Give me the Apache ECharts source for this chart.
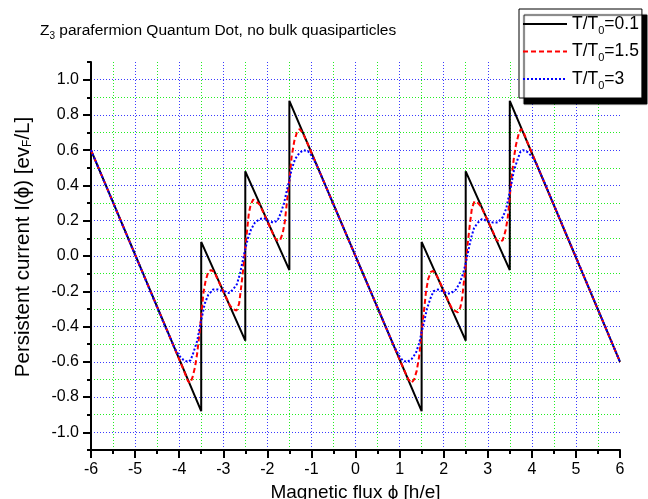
<!DOCTYPE html>
<html>
<head>
<meta charset="utf-8">
<script src="https://cdn.jsdelivr.net/npm/echarts@6/dist/echarts.min.js"></script>
<style>
    html, body { margin: 0; padding: 0; background: #fff; }
    #chart { width: 648px; height: 499px; }
</style>
</head>
<body>
<div id="chart"></div>
<script>
    // T/T0 = 0.1 : sawtooth corners
    var fluxBlack = [-6, -3.5, -3.5, -2.5, -2.5, -1.5, -1.5, 1.5, 1.5, 2.5, 2.5, 3.5, 3.5, 6];
    var currentBlack = [0.6, -0.88, 0.08, -0.48, 0.48, -0.08, 0.88, -0.88, 0.08, -0.48, 0.48, -0.08, 0.88, -0.6];

    // T/T0 = 1.5
    var fluxRed = [-6, -4.0, -3.9, -3.8, -3.75, -3.7, -3.64, -3.59, -3.53, -3.49, -3.45, -3.4, -3.34, -3.28, -3.2, -3.15,
        -2.85, -2.78, -2.7, -2.64, -2.59, -2.55, -2.51, -2.47, -2.42, -2.38, -2.32, -2.25, -2.17, -1.88, -1.82, -1.76,
        -1.71, -1.65, -1.6, -1.55, -1.5, -1.45, -1.39, -1.33, -1.27, -1.2, -1.1, 0,
        1.1, 1.2, 1.27, 1.33, 1.39, 1.45, 1.5, 1.55, 1.6, 1.65, 1.71, 1.76, 1.82, 1.88, 2.17, 2.25, 2.32, 2.38, 2.42,
        2.47, 2.51, 2.55, 2.59, 2.64, 2.7, 2.78, 2.85, 3.15, 3.2, 3.28, 3.34, 3.4, 3.45, 3.49, 3.53, 3.59, 3.64, 3.7,
        3.75, 3.8, 3.9, 4.0, 6];
    var currentRed = [0.6, -0.585, -0.645, -0.71, -0.72, -0.69, -0.63, -0.55, -0.42, -0.31, -0.21, -0.14, -0.09, -0.08, -0.09, -0.12,
        -0.28, -0.30, -0.31, -0.27, -0.17, -0.08, 0.02, 0.12, 0.24, 0.29, 0.32, 0.31, 0.29, 0.13, 0.10, 0.085,
        0.09, 0.13, 0.20, 0.32, 0.43, 0.56, 0.65, 0.70, 0.72, 0.70, 0.645, 0,
        -0.645, -0.70, -0.72, -0.70, -0.65, -0.56, -0.43, -0.32, -0.20, -0.13, -0.09, -0.085, -0.10, -0.13, -0.29, -0.31, -0.32, -0.29, -0.24,
        -0.12, -0.02, 0.08, 0.17, 0.27, 0.31, 0.30, 0.28, 0.12, 0.09, 0.08, 0.09, 0.14, 0.21, 0.31, 0.42, 0.55, 0.63, 0.69,
        0.72, 0.71, 0.645, 0.585, -0.6];

    // T/T0 = 3
    var fluxBlue = [-6, -4.3, -4.2, -4.1, -4.0, -3.9, -3.8, -3.74, -3.68, -3.59, -3.53, -3.47, -3.42, -3.34, -3.23, -3.12,
        -2.97, -2.87, -2.78, -2.69, -2.62, -2.56, -2.5, -2.44, -2.37, -2.28, -2.17, -2.08, -1.98, -1.87, -1.77, -1.7,
        -1.62, -1.56, -1.5, -1.45, -1.37, -1.27, -1.18, -1.08, -1.0, -0.88, 0,
        0.88, 1.0, 1.08, 1.18, 1.27, 1.37, 1.45, 1.5, 1.56, 1.62, 1.7, 1.77, 1.87, 1.98, 2.08, 2.17, 2.28, 2.37, 2.44,
        2.5, 2.56, 2.62, 2.69, 2.78, 2.87, 2.97, 3.12, 3.23, 3.34, 3.42, 3.47, 3.53, 3.59, 3.68, 3.74, 3.8, 3.9, 4.0,
        4.1, 4.2, 4.3, 6];
    var currentBlue = [0.6, -0.41, -0.465, -0.525, -0.565, -0.59, -0.60, -0.59, -0.55, -0.48, -0.40, -0.33, -0.27, -0.22, -0.19, -0.19,
        -0.20, -0.21, -0.19, -0.16, -0.10, -0.03, 0.04, 0.10, 0.15, 0.19, 0.21, 0.215, 0.20, 0.19, 0.20, 0.24,
        0.30, 0.37, 0.43, 0.49, 0.55, 0.585, 0.60, 0.595, 0.57, 0.515, 0,
        -0.515, -0.57, -0.595, -0.60, -0.585, -0.55, -0.49, -0.43, -0.37, -0.30, -0.24, -0.20, -0.19, -0.20, -0.215, -0.21, -0.19, -0.15, -0.10,
        -0.04, 0.03, 0.10, 0.16, 0.19, 0.21, 0.20, 0.19, 0.19, 0.22, 0.27, 0.33, 0.40, 0.48, 0.55, 0.59, 0.60, 0.59, 0.565,
        0.525, 0.465, 0.41, -0.6];

    var seriesNames = ['T/T0=0.1', 'T/T0=1.5', 'T/T0=3'];
    var yMajorTicks = [-1.0, -0.8, -0.6, -0.4, -0.2, 0.0, 0.2, 0.4, 0.6, 0.8, 1.0];

    var FONT = '"Liberation Sans", Arial, sans-serif';
    var BLUE_GRID = '#3a3aff';
    var GREEN_GRID = '#22ee22';

    function zip(xs, ys) {
        return xs.map(function (x, i) { return [x, ys[i]]; });
    }

    function buildLine(name, xs, ys, color, type) {
        return {
            name: name,
            type: 'line',
            data: zip(xs, ys),
            symbol: 'none',
            animation: false,
            lineStyle: { color: color, width: 2, type: type },
            itemStyle: { color: color }
        };
    }

    var chart = echarts.init(document.getElementById('chart'), null, { renderer: 'canvas' });

    chart.setOption({
        animation: false,
        textStyle: { fontFamily: FONT },
        title: {
            text: '{a|Z}{s|3}{a| parafermion Quantum Dot, no bulk quasiparticles}',
            left: 40,
            top: 21,
            padding: 0,
            textStyle: {
                fontWeight: 'normal',
                rich: {
                    a: { fontSize: 15.5, lineHeight: 20, fontWeight: 'normal', color: '#000', fontFamily: FONT },
                    s: { fontSize: 10, lineHeight: 4, verticalAlign: 'bottom', fontWeight: 'normal', color: '#000', fontFamily: FONT }
                }
            }
        },
        legend: {
            orient: 'vertical',
            left: 519,
            top: 9,
            padding: [6, 3, 7, 3],
            itemGap: 6.5,
            itemWidth: 44,
            itemHeight: 14,
            backgroundColor: '#fff',
            borderColor: '#000',
            borderWidth: 1,
            borderRadius: 0,
            shadowColor: '#000',
            shadowBlur: 1,
            shadowOffsetX: 5,
            shadowOffsetY: 6,
            itemStyle: { opacity: 0 },
            data: seriesNames,
            formatter: function (name) {
                var parts = name.split('T0');
                return '{a|' + parts[0] + 'T}{s|0}{a|' + parts[1] + '}';
            },
            textStyle: {
                rich: {
                    a: { fontSize: 17.5, lineHeight: 24, color: '#000', fontFamily: FONT },
                    s: { fontSize: 11, lineHeight: 2, verticalAlign: 'bottom', color: '#000', fontFamily: FONT }
                }
            }
        },
        grid: { left: 91, right: 28, top: 62, bottom: 49, outerBoundsMode: 'none', containLabel: false },
        xAxis: {
            type: 'value',
            min: -6,
            max: 6,
            interval: 1,
            name: 'Magnetic flux \u03d5 [h/e]',
            nameLocation: 'middle',
            nameGap: 31,
            nameTextStyle: { fontSize: 19, color: '#000', fontFamily: FONT },
            axisLine: { onZero: false, lineStyle: { color: '#000', width: 2 } },
            axisTick: { length: 8, lineStyle: { color: '#000', width: 2 } },
            minorTick: { show: true, splitNumber: 2, length: 4, lineStyle: { color: '#000', width: 2 } },
            axisLabel: { fontSize: 16, color: '#000', margin: 12 },
            splitLine: { show: true, showMaxLine: false, lineStyle: { color: BLUE_GRID, width: 1, type: [1, 2] } },
            minorSplitLine: { show: true, lineStyle: { color: GREEN_GRID, width: 1, type: [1, 2] } }
        },
        yAxis: [{
            type: 'value',
            min: -1.1,
            max: 1.1,
            interval: 0.1,
            name: '{a|Persistent current I(\u03d5) [ev}{s|F}{a|/L]}',
            nameLocation: 'middle',
            nameRotate: 90,
            nameGap: 57,
            nameTextStyle: {
                padding: [0, 0, 0, 18],
                rich: {
                    a: { fontSize: 20.5, lineHeight: 22, color: '#000', fontFamily: FONT },
                    s: { fontSize: 12, lineHeight: 4, verticalAlign: 'bottom', color: '#000', fontFamily: FONT }
                }
            },
            axisLine: { show: true, onZero: false, lineStyle: { color: '#000', width: 2 } },
            axisTick: { length: 4, lineStyle: { color: '#000', width: 2 } },
            axisLabel: {
                fontSize: 16,
                color: '#000',
                margin: 12,
                formatter: function (v) {
                    var t = Math.round(v * 10);
                    return t % 2 === 0 ? (t / 10).toFixed(1) : '';
                }
            },
            splitLine: {
                show: true,
                showMaxLine: false,
                lineStyle: { color: [GREEN_GRID, BLUE_GRID], width: 1, type: [1, 2] }
            }
        }, {
            type: 'value',
            min: -1.1,
            max: 1.1,
            position: 'left',
            axisLine: { show: false, onZero: false },
            axisTick: { show: true, length: 8, customValues: yMajorTicks, lineStyle: { color: '#000', width: 2 } },
            axisLabel: { show: false },
            splitLine: { show: false }
        }],
        series: [
            buildLine(seriesNames[0], fluxBlack, currentBlack, '#000', 'solid'),
            buildLine(seriesNames[1], fluxRed, currentRed, '#ff0000', [5, 3]),
            buildLine(seriesNames[2], fluxBlue, currentBlue, '#0000ff', [2, 2])
        ]
    });
</script>
</body>
</html>
